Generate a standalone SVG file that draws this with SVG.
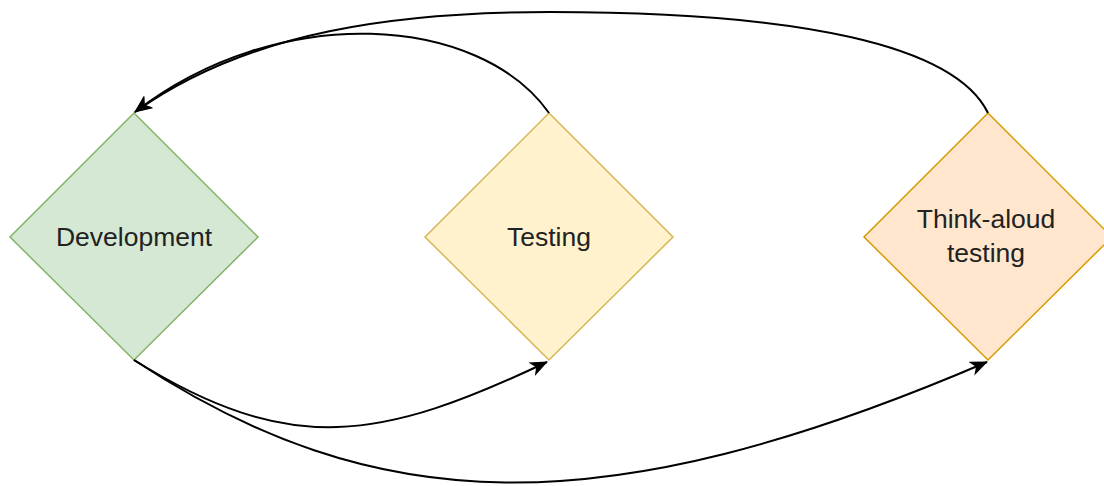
<svg xmlns="http://www.w3.org/2000/svg" width="1104" height="486" viewBox="0 0 1104 486">
  <style>
    .node { stroke-width: 1.5; }
    .dev { fill: #d5e8d4; stroke: #82b366; }
    .test { fill: #fff2cc; stroke: #d6b656; }
    .think { fill: #ffe6cc; stroke: #d79b00; }
    .label { font-family: "Liberation Sans", Arial, sans-serif; font-size: 26.5px; fill: #222; text-anchor: middle; }
    .edge { fill: none; stroke: #000; stroke-width: 2; marker-end: url(#arrow); }
  </style>
  <defs>
    <marker id="arrow" viewBox="0 0 18 15" refX="17" refY="7.5" markerWidth="18" markerHeight="15" markerUnits="userSpaceOnUse" orient="auto">
      <path d="M0,0 L18,7.5 L0,15 L5,7.5 Z" fill="#000"/>
    </marker>
  </defs>

  <rect width="1104" height="486" fill="#ffffff"/>

  <g id="development">
    <polygon class="node dev" points="134,113 258,237 134,360 10,237"/>
    <text class="label" x="134" y="246">Development</text>
  </g>

  <g id="testing">
    <polygon class="node test" points="549,113 673,237 549,360 425,237"/>
    <text class="label" x="549" y="246">Testing</text>
  </g>

  <g id="think-aloud">
    <polygon class="node think" points="988,113 1112,237 988,360 864,237"/>
    <text class="label" x="986" y="228">Think-aloud</text>
    <text class="label" x="986" y="262">testing</text>
  </g>

  <g id="connectors">
    <!-- Testing back to Development -->
    <path class="edge" d="M549,113 C480,15 280,0 135,112"/>
    <!-- Think-aloud testing back to Development -->
    <path class="edge" d="M988,113 C955,45 800,12 550,12 C400,12 250,30 135,112"/>
    <!-- Development to Testing -->
    <path class="edge" d="M134,360 C291,458 382,440 547,362"/>
    <!-- Development to Think-aloud testing -->
    <path class="edge" d="M134,360 C374,518 600,528 987,362"/>
  </g>
</svg>
